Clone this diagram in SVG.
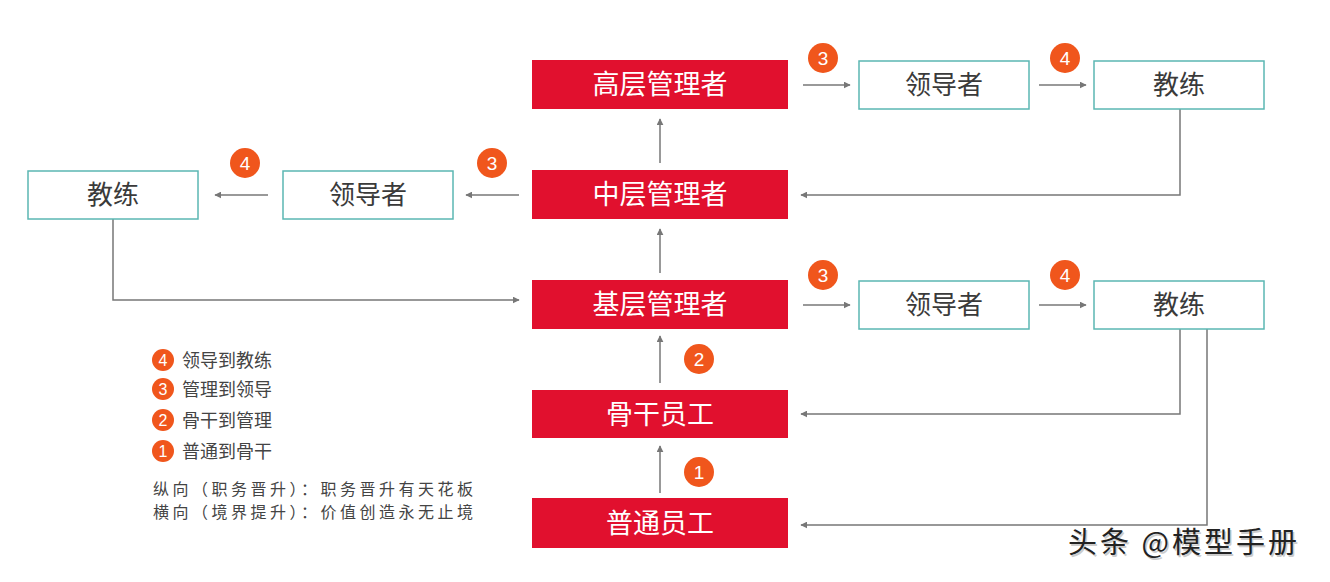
<svg xmlns="http://www.w3.org/2000/svg" width="1330" height="582" viewBox="0 0 1330 582">
<style>
.red{fill:#E1102E}
.rt{fill:#fff;font-family:"Noto Sans CJK SC","Liberation Sans",sans-serif;font-size:27px;text-anchor:middle}
.box{fill:#fff;stroke:#5BB7B3;stroke-width:1.5}
.bt{fill:#3a3a3a;font-family:"Noto Sans CJK SC","Liberation Sans",sans-serif;font-size:26px;text-anchor:middle}
.ln{fill:none;stroke:#777;stroke-width:1.5}
.badge{fill:#F0561C}
.bn{fill:#fff;font-family:"Liberation Sans",sans-serif;font-size:19px;text-anchor:middle}
.lbn{fill:#fff;font-family:"Liberation Sans",sans-serif;font-size:16px;text-anchor:middle}
.lt{fill:#444;font-family:"Noto Sans CJK SC","Liberation Sans",sans-serif;font-size:18px}
.nt{fill:#444;font-family:"Noto Sans CJK SC","Liberation Sans",sans-serif;font-size:16px}
</style>
<defs>
<marker id="ah" viewBox="0 0 10 10" refX="9" refY="5" markerWidth="7" markerHeight="7" markerUnits="userSpaceOnUse" orient="auto">
<path d="M0,0 L10,5 L0,10 Z" fill="#777"/>
</marker>
</defs>
<rect width="1330" height="582" fill="#fff"/>

<g id="connectors">
<line class="ln" x1="660" y1="163" x2="660" y2="119" marker-end="url(#ah)"/>
<line class="ln" x1="660" y1="273" x2="660" y2="229" marker-end="url(#ah)"/>
<line class="ln" x1="660" y1="383" x2="660" y2="336" marker-end="url(#ah)"/>
<line class="ln" x1="660" y1="493" x2="660" y2="446" marker-end="url(#ah)"/>
<line class="ln" x1="803" y1="85" x2="850" y2="85" marker-end="url(#ah)"/>
<line class="ln" x1="1039" y1="85" x2="1086" y2="85" marker-end="url(#ah)"/>
<line class="ln" x1="803" y1="305" x2="850" y2="305" marker-end="url(#ah)"/>
<line class="ln" x1="1039" y1="305" x2="1086" y2="305" marker-end="url(#ah)"/>
<line class="ln" x1="519" y1="195" x2="466" y2="195" marker-end="url(#ah)"/>
<line class="ln" x1="268" y1="195" x2="215" y2="195" marker-end="url(#ah)"/>
<polyline class="ln" points="1180,109 1180,195 801,195" marker-end="url(#ah)"/>
<polyline class="ln" points="113,219 113,300 519,300" marker-end="url(#ah)"/>
<polyline class="ln" points="1180,329 1180,414 801,414" marker-end="url(#ah)"/>
<polyline class="ln" points="1207,329 1207,525 801,525" marker-end="url(#ah)"/>
</g>

<g id="n-gaoceng"><rect class="red" x="532" y="60" width="256" height="49"/><text class="rt" x="660" y="94">高层管理者</text></g>
<g id="n-zhongceng"><rect class="red" x="532" y="170" width="256" height="49"/><text class="rt" x="660" y="204">中层管理者</text></g>
<g id="n-jiceng"><rect class="red" x="532" y="280" width="256" height="49"/><text class="rt" x="660" y="314">基层管理者</text></g>
<g id="n-gugan"><rect class="red" x="532" y="390" width="256" height="48"/><text class="rt" x="660" y="424">骨干员工</text></g>
<g id="n-putong"><rect class="red" x="532" y="498" width="256" height="50"/><text class="rt" x="660" y="533">普通员工</text></g>

<g id="n-lingdao-top"><rect class="box" x="859" y="61" width="170" height="48"/><text class="bt" x="944" y="94">领导者</text></g>
<g id="n-jiaolian-top"><rect class="box" x="1094" y="61" width="170" height="48"/><text class="bt" x="1179" y="94">教练</text></g>
<g id="n-lingdao-mid"><rect class="box" x="283" y="171" width="170" height="48"/><text class="bt" x="368" y="204">领导者</text></g>
<g id="n-jiaolian-mid"><rect class="box" x="28" y="171" width="170" height="48"/><text class="bt" x="113" y="204">教练</text></g>
<g id="n-lingdao-bot"><rect class="box" x="859" y="281" width="170" height="48"/><text class="bt" x="944" y="314">领导者</text></g>
<g id="n-jiaolian-bot"><rect class="box" x="1094" y="281" width="170" height="48"/><text class="bt" x="1179" y="314">教练</text></g>

<g id="badges">
<circle class="badge" cx="823" cy="58" r="15"/><text class="bn" x="823" y="65">3</text>
<circle class="badge" cx="1065" cy="58" r="15"/><text class="bn" x="1065" y="65">4</text>
<circle class="badge" cx="492" cy="163" r="15"/><text class="bn" x="492" y="170">3</text>
<circle class="badge" cx="245" cy="163" r="15"/><text class="bn" x="245" y="170">4</text>
<circle class="badge" cx="823" cy="275" r="15"/><text class="bn" x="823" y="282">3</text>
<circle class="badge" cx="1065" cy="275" r="15"/><text class="bn" x="1065" y="282">4</text>
<circle class="badge" cx="699" cy="359" r="15"/><text class="bn" x="699" y="366">2</text>
<circle class="badge" cx="699" cy="472" r="15"/><text class="bn" x="699" y="479">1</text>
</g>

<g id="legend">
<circle class="badge" cx="163" cy="360" r="11"/><text class="lbn" x="163" y="366">4</text>
<text class="lt" x="182" y="366.5">领导到教练</text>
<circle class="badge" cx="163" cy="389" r="11"/><text class="lbn" x="163" y="395">3</text>
<text class="lt" x="182" y="395.5">管理到领导</text>
<circle class="badge" cx="163" cy="420" r="11"/><text class="lbn" x="163" y="426">2</text>
<text class="lt" x="182" y="426.5">骨干到管理</text>
<circle class="badge" cx="163" cy="451" r="11"/><text class="lbn" x="163" y="457">1</text>
<text class="lt" x="182" y="457.5">普通到骨干</text>
<text class="nt" x="153" y="495" textLength="320" lengthAdjust="spacing">纵向（职务晋升）：职务晋升有天花板</text>
<text class="nt" x="153" y="518" textLength="320" lengthAdjust="spacing">横向（境界提升）：价值创造永无止境</text>
</g>

<g font-family="Noto Sans CJK SC, Liberation Sans, sans-serif" font-size="29" letter-spacing="3">
<text x="1069.5" y="554.5" fill="#ccc">头条 @模型手册</text>
<text x="1068" y="553" fill="#222">头条 @模型手册</text>
</g>
</svg>
